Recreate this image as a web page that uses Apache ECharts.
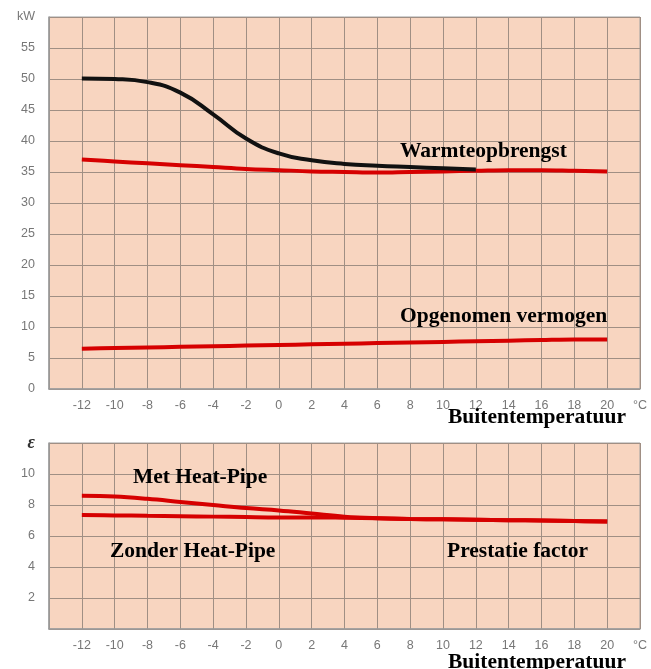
<!DOCTYPE html>
<html><head><meta charset="utf-8">
<script src="https://cdn.jsdelivr.net/npm/echarts@6/dist/echarts.min.js"></script>
<style>html,body{margin:0;padding:0;background:#fff}#c{width:651px;height:669px}</style>
</head><body><div id="c"></div>
<script>
// Top chart data (kW vs outdoor temperature °C)
const tempBlack = [-12, -10, -8, -6, -4, -2, 0, 2, 4, 6, 8, 10, 12];
const warmteMet = [50.1, 50.0, 49.5, 47.8, 44.3, 40.4, 38.0, 36.9, 36.3, 36.0, 35.8, 35.6, 35.4];
const temps = [-12, -10, -8, -6, -4, -2, 0, 2, 4, 6, 8, 10, 12, 14, 16, 18, 20];
const warmteZonder = [37.0, 36.7, 36.4, 36.1, 35.8, 35.5, 35.3, 35.1, 35.0, 34.9, 35.0, 35.1, 35.2, 35.3, 35.3, 35.2, 35.1];
const opgenomen = [6.5, 6.6, 6.7, 6.8, 6.9, 7.0, 7.1, 7.2, 7.3, 7.4, 7.5, 7.6, 7.7, 7.8, 7.9, 8.0, 8.0];
// Bottom chart data (performance factor)
const metHeatPipe = [8.6, 8.55, 8.4, 8.2, 8.0, 7.8, 7.65, 7.45, 7.25, 7.15, 7.1, 7.08, 7.05, 7.02, 7.0, 6.97, 6.93];
const zonderHeatPipe = [7.35, 7.33, 7.3, 7.28, 7.25, 7.22, 7.2, 7.2, 7.18, 7.15, 7.1, 7.08, 7.05, 7.02, 7.0, 6.97, 6.93];
const xMin = -14, xMax = 22, xStep = 2;
const kwMax = 60, kwStep = 5;
const epsMax = 12, epsStep = 2;

const pair = (xs, ys) => xs.map((x, i) => [x, ys[i]]);
const RED = '#d60000', BLACK = '#111111';
const gridLineStyle = { color: '#a08f84', width: 1 };
const axisLabelStyle = { color: '#777777', fontSize: 12.5, fontFamily: 'Liberation Sans, Arial, sans-serif' };
const serifBold = { fontFamily: 'Liberation Serif, Times New Roman, serif', fontWeight: 'bold', fontSize: 21.5, fill: '#000' };

function xAxis(gi) {
  return {
    type: 'value', gridIndex: gi, min: xMin, max: xMax, interval: xStep,
    axisLine: { show: true, onZero: false, lineStyle: { color: '#9a9a9a', width: 1.5 } },
    axisTick: { show: false },
    splitLine: { show: true, lineStyle: gridLineStyle },
    axisLabel: Object.assign({ margin: 10, showMinLabel: true, showMaxLabel: true,
      formatter: v => v === xMin ? '' : (v === xMax ? '°C' : String(v)) }, axisLabelStyle)
  };
}

const chart = echarts.init(document.getElementById('c'), null, { renderer: 'canvas' });
chart.setOption({
  animation: false,
  backgroundColor: '#ffffff',
  grid: [
    { left: 49, right: 11, top: 17, height: 372, show: true, backgroundColor: '#f8d5c0', borderColor: '#a0a0a0', borderWidth: 1 },
    { left: 49, right: 11, top: 443, height: 186, show: true, backgroundColor: '#f8d5c0', borderColor: '#a0a0a0', borderWidth: 1 }
  ],
  xAxis: [xAxis(0), xAxis(1)],
  yAxis: [
    { type: 'value', gridIndex: 0, min: 0, max: kwMax, interval: kwStep,
      axisLine: { show: true, onZero: false, lineStyle: { color: '#9a9a9a', width: 1.5 } }, axisTick: { show: false },
      splitLine: { show: true, lineStyle: gridLineStyle },
      axisLabel: Object.assign({ margin: 14, formatter: v => v === kwMax ? 'kW' : String(v) }, axisLabelStyle) },
    { type: 'value', gridIndex: 1, min: 0, max: epsMax, interval: epsStep,
      axisLine: { show: true, onZero: false, lineStyle: { color: '#9a9a9a', width: 1.5 } }, axisTick: { show: false },
      splitLine: { show: true, lineStyle: gridLineStyle },
      axisLabel: Object.assign({ margin: 14, formatter: v => v === 0 ? '' : (v === epsMax ? '{e|ε}' : String(v)),
        rich: { e: { fontFamily: 'Liberation Serif, serif', fontStyle: 'italic', fontWeight: 'bold', fontSize: 18, color: '#333' } } }, axisLabelStyle) }
  ],
  series: [
    { type: 'line', xAxisIndex: 0, yAxisIndex: 0, data: pair(temps, warmteZonder), smooth: 0.4, symbol: 'none', lineStyle: { color: RED, width: 4 }, z: 3 },
    { type: 'line', xAxisIndex: 0, yAxisIndex: 0, data: pair(tempBlack, warmteMet), smooth: 0.5, symbol: 'none', lineStyle: { color: BLACK, width: 4 }, z: 4 },
    { type: 'line', xAxisIndex: 0, yAxisIndex: 0, data: pair(temps, opgenomen), smooth: 0.3, symbol: 'none', lineStyle: { color: RED, width: 4 }, z: 3 },
    { type: 'line', xAxisIndex: 1, yAxisIndex: 1, data: pair(temps, metHeatPipe), smooth: 0.4, symbol: 'none', lineStyle: { color: RED, width: 4 }, z: 3 },
    { type: 'line', xAxisIndex: 1, yAxisIndex: 1, data: pair(temps, zonderHeatPipe), smooth: 0.4, symbol: 'none', lineStyle: { color: RED, width: 4 }, z: 3 }
  ],
  graphic: [
    { type: 'text', left: 400, top: 140, z: 10, style: Object.assign({ text: 'Warmteopbrengst' }, serifBold) },
    { type: 'text', left: 400, top: 305, z: 10, style: Object.assign({ text: 'Opgenomen vermogen' }, serifBold) },
    { type: 'text', left: 448, top: 406, z: 10, style: Object.assign({ text: 'Buitentemperatuur' }, serifBold) },
    { type: 'text', left: 133, top: 466, z: 10, style: Object.assign({ text: 'Met Heat-Pipe' }, serifBold) },
    { type: 'text', left: 110, top: 540, z: 10, style: Object.assign({ text: 'Zonder Heat-Pipe' }, serifBold) },
    { type: 'text', left: 447, top: 540, z: 10, style: Object.assign({ text: 'Prestatie factor' }, serifBold) },
    { type: 'text', left: 448, top: 651, z: 10, style: Object.assign({ text: 'Buitentemperatuur' }, serifBold) }
  ]
});
</script>
</body></html>
